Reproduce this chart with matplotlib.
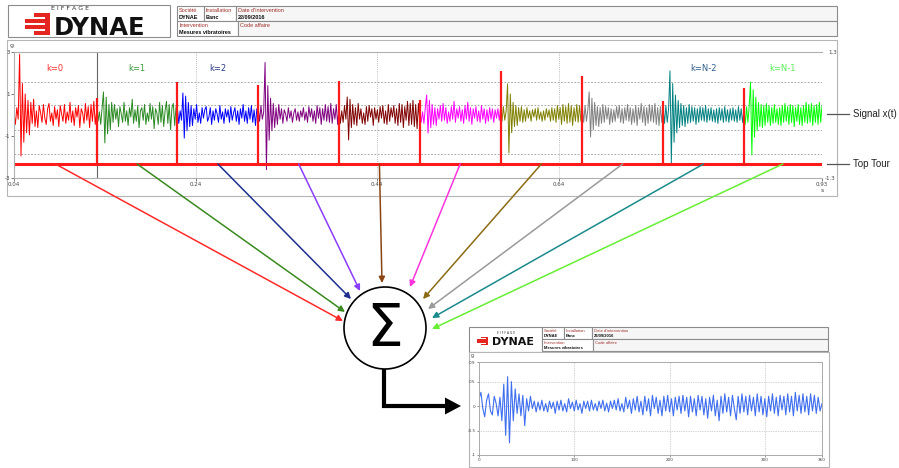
import numpy as np
import matplotlib
matplotlib.use('Agg')
import matplotlib.pyplot as plt
from matplotlib.patches import Rectangle, Circle, ConnectionPatch, Polygon

W, H = 899, 468

# --- vibration signal x(t) [g], one list per revolution k ---
seg_colors = ['#ff0000', '#2a8a22', '#0000ff', '#800080', '#800000',
              '#ff00ff', '#808000', '#808080', '#008080', '#00ff00']
arrow_colors = ['#ff2a2a', '#3a8a1e', '#1f2f8f', '#8a3cff', '#8b4513',
                '#ff33dd', '#8b6b14', '#9a9a9a', '#1a8a8a', '#66ee33']

s0 = [0.1, -0.45, 0.35, -0.2, 2.9, -1.95, 1.5, -1.3, 1.0, -0.85, 0.7, -0.95, 0.6, -0.4, 0.75, -0.55, 0.2, -0.6, 0.45, 0.1,
      -0.35, 0.5, -0.15, -0.45, 0.3, 0.55, -0.3, 0.1, -0.5, 0.4, -0.2, 0.25, -0.55, 0.45, 0.05, -0.3, 0.5, -0.4, 0.15, -0.25,
      0.6, -0.35, 0.2, -0.5, 0.35, -0.1, 0.45, -0.6, 0.3, 0.1, -0.4, 0.55, -0.25, 0.4, -0.6, 0.5, -0.3, 0.65, -0.45, 0.2]
s1 = [0.4, -0.3, 0.15, -0.45, 0.35, 1.1, -1.33, 0.85, -0.9, 0.5, -0.7, 0.6, -0.35, 0.5, -0.2, 0.3, -0.55, 0.4, 0.05, -0.35,
      0.6, -0.3, 0.2, -0.5, 0.35, -0.1, 0.75, -0.4, 0.25, -0.3, 0.45, -0.6, 0.2, 0.35, -0.25, 0.5, -0.45, 0.1, -0.3, 0.55,
      -0.2, 0.4, -0.65, 0.3, 0.1, -0.45, 0.6, -0.35, 0.45, -0.55, 0.2, 0.65, -0.4, 0.5, -0.7, 0.35, 0.55, -0.5, 0.4, -0.3]
s2 = [0.3, -0.4, 0.2, -0.25, 1.05, -1.1, 0.9, -0.75, 0.6, -0.55, 0.45, -0.5, 0.3, -0.2, 0.5, -0.35, 0.1, -0.4, 0.35, -0.15,
      0.25, 0.4, -0.3, -0.1, 0.35, -0.45, 0.2, -0.25, 0.3, 0.05, -0.35, 0.45, -0.2, 0.15, -0.4, 0.3, -0.1, 0.25, -0.35, 0.4,
      -0.25, 0.1, 0.35, -0.3, 0.2, -0.45, 0.3, -0.15, 0.5, -0.3, 0.2, -0.4, 0.35, -0.2, 0.45, -0.35, 0.25, -0.5, 0.3, -0.2]
s3 = [0.35, -0.3, 0.45, -0.2, 0.15, 2.5, -2.6, 1.4, -1.2, 0.8, -0.75, 0.55, -0.6, 0.35, -0.45, 0.5, -0.2, 0.3, -0.4, 0.25,
      0.05, -0.3, 0.35, -0.15, 0.2, -0.35, 0.1, 0.3, -0.25, 0.15, -0.3, 0.2, -0.1, 0.35, -0.25, 0.15, -0.35, 0.4, -0.1, 0.3,
      -0.3, 0.2, -0.4, 0.45, -0.15, 0.35, -0.45, 0.3, -0.25, 0.5, -0.3, 0.4, -0.35, 0.55, -0.4, 0.3, -0.2, 0.5, -0.45, 0.35]
s4 = [0.35, -0.4, 0.2, -0.35, 0.45, -0.2, 0.86, -1.19, 0.75, -0.6, 0.5, -0.45, 0.35, -0.5, 0.55, -0.2, 0.3, -0.4, 0.1, -0.45,
      0.4, -0.3, 0.45, -0.1, 0.3, -0.5, 0.35, -0.2, 0.25, -0.35, 0.4, -0.15, 0.45, -0.4, 0.2, -0.45, 0.5, -0.3, 0.35, -0.1,
      0.45, -0.4, 0.3, -0.5, 0.55, -0.35, 0.5, -0.6, 0.4, -0.25, 0.65, -0.5, 0.55, -0.45, 0.7, -0.55, 0.5, -0.65, 0.55, -0.35]
s5 = [0.3, -0.35, 0.15, -0.4, 0.35, 0.95, -0.86, 0.7, -0.6, 0.5, -0.45, 0.35, -0.5, 0.3, -0.2, 0.45, -0.3, 0.55, -0.25, 0.35,
      -0.4, 0.15, -0.3, 0.4, -0.2, 0.65, -0.35, 0.3, -0.15, 0.4, -0.3, 0.25, -0.4, 0.45, -0.2, 0.6, -0.3, 0.35, -0.45, 0.3,
      -0.15, 0.4, -0.3, 0.2, -0.35, 0.45, -0.2, 0.3, -0.4, 0.25, -0.3, 0.35, -0.2, 0.3, -0.35, 0.25, -0.15, 0.3, -0.25, 0.35]
s6 = [0.35, -0.3, 0.4, -0.25, 0.2, 1.48, -1.81, 1.0, -0.85, 0.6, -0.55, 0.45, -0.5, 0.35, -0.3, 0.4, -0.35, 0.25, -0.3, 0.35,
      -0.15, 0.2, -0.3, 0.25, -0.1, 0.3, -0.25, 0.35, -0.2, 0.15, -0.3, 0.2, -0.25, 0.3, -0.1, 0.25, -0.3, 0.35, -0.25, 0.3,
      -0.35, 0.45, -0.2, 0.35, -0.45, 0.5, -0.3, 0.4, -0.4, 0.55, -0.35, 0.45, -0.5, 0.35, -0.3, 0.5, -0.35, 0.45, -0.3, 0.35]
s7 = [0.4, -0.35, 0.45, -0.3, 0.25, 1.1, -1.05, 0.8, -0.7, 0.6, -0.5, 0.4, -0.55, 0.35, -0.4, 0.5, -0.35, 0.4, -0.2, 0.35,
      -0.45, 0.3, -0.35, 0.25, -0.3, 0.4, -0.15, 0.45, -0.35, 0.3, -0.4, 0.35, -0.25, 0.5, -0.3, 0.35, -0.45, 0.3, -0.35, 0.45,
      -0.5, 0.35, -0.2, 0.55, -0.35, 0.4, -0.5, 0.35, -0.4, 0.5, -0.3, 0.45, -0.35, 0.55, -0.45, 0.35, -0.5, 0.4, -0.35, 0.45]
s8 = [0.35, -0.4, 0.45, -0.35, 0.3, 2.1, -2.29, 1.5, -1.3, 0.95, -0.85, 0.7, -0.6, 0.55, -0.5, 0.45, -0.55, 0.35, -0.4, 0.5,
      -0.35, 0.4, -0.3, 0.35, -0.45, 0.3, -0.35, 0.4, -0.25, 0.35, -0.3, 0.45, -0.35, 0.3, -0.25, 0.35, -0.3, 0.25, -0.35, 0.3,
      -0.4, 0.35, -0.25, 0.3, -0.35, 0.4, -0.3, 0.25, -0.35, 0.3, -0.25, 0.35, -0.3, 0.25, -0.35, 0.4, -0.25, 0.3, -0.35, 0.25]
s9 = [0.35, -0.45, 0.4, -0.35, 0.45, 1.57, -1.9, 1.2, -1.05, 0.85, -0.75, 0.6, -0.55, 0.5, -0.6, 0.45, -0.5, 0.55, -0.35, 0.45,
      -0.5, 0.35, -0.4, 0.5, -0.35, 0.3, -0.45, 0.35, -0.5, 0.45, -0.35, 0.55, -0.3, 0.4, -0.45, 0.5, -0.35, 0.45, -0.55, 0.35,
      -0.3, 0.5, -0.45, 0.35, -0.5, 0.45, -0.35, 0.6, -0.4, 0.5, -0.35, 0.55, -0.5, 0.45, -0.35, 0.5, -0.45, 0.6, -0.35, 0.45]
seg_signal = [s0, s1, s2, s3, s4, s5, s6, s7, s8, s9]

# top tour (once-per-rev) pulses
t_start, t_end = 0.04, 0.93
top_tour_times = [0.131, 0.220, 0.309, 0.398, 0.487, 0.576, 0.666, 0.755, 0.844]
top_tour_peaks = [0.81, 1.57, 1.43, 1.62, 0.71, 2.10, 1.86, 0.67, 1.29]
top_tour_base = -2.33

k_labels = {0: 'k=0', 1: 'k=1', 2: 'k=2', 8: 'k=N-2', 9: 'k=N-1'}
k_label_colors = {0: '#ff3030', 1: '#3a9a3a', 2: '#2a3a8a', 8: '#2f5f8f', 9: '#55ee55'}

# synchronous average over one revolution (deg)
avg_signal = [0.15, 0.28, -0.05, -0.22, 0.12, 0.25,
              -0.1, -0.18, 0.2, 0.05, -0.2, 0.18, -0.3, 0.45, -0.6, 0.6,
              -0.75, 0.5, -0.3, 0.35, -0.15, 0.25, -0.2, 0.22, -0.4, 0.15,
              -0.1, 0.2, -0.05, 0.1, -0.12, 0.08, -0.08, 0.12, -0.1, 0.05,
              -0.12, 0.1, -0.05, 0.08, -0.15, 0.1, -0.08, 0.12, -0.1, 0.05,
              -0.12, 0.15, -0.05, 0.08, -0.1, 0.12, -0.08, 0.05, -0.15, 0.1,
              -0.05, 0.1, -0.1, 0.12, -0.08, 0.05, -0.1, 0.1, -0.05, 0.12,
              -0.1, 0.06, -0.12, 0.1, -0.05, 0.12, -0.08, 0.15, -0.1, 0.05,
              -0.12, 0.18, -0.05, 0.12, -0.15, 0.15, -0.08, 0.2, -0.12, 0.1,
              -0.18, 0.2, -0.1, 0.15, -0.2, 0.22, -0.05, 0.18, -0.15, 0.12,
              -0.2, 0.2, -0.1, 0.22, -0.12, 0.15, -0.2, 0.18, -0.08, 0.2,
              -0.15, 0.22, -0.1, 0.18, -0.22, 0.2, -0.12, 0.15, -0.2, 0.22,
              -0.08, 0.2, -0.18, 0.15, -0.25, 0.18, -0.1, 0.22, -0.2, 0.12,
              -0.3, 0.2, -0.15, 0.25, -0.12, 0.18, -0.2, 0.22, -0.05, -0.28,
              0.2, -0.15, 0.25, -0.12, 0.2, -0.18, 0.22, -0.1, 0.18, -0.2,
              0.25, -0.12, 0.2, -0.18, 0.15, -0.22, 0.2, -0.1, 0.25, -0.15,
              0.18, -0.2, 0.22, -0.08, 0.2, -0.18, 0.25, -0.12, 0.2, -0.2,
              0.28, -0.1, 0.22, -0.15, 0.25, -0.12, 0.2, -0.18, 0.25, -0.1,
              0.22, -0.15, 0.18, -0.1, 0.05]

fig = plt.figure(figsize=(W / 100, H / 100), dpi=100)


def px_axes(x0, y0, x1, y1):
    return fig.add_axes([x0 / W, 1 - y1 / H, (x1 - x0) / W, (y1 - y0) / H])


def pixel_canvas():
    a = px_axes(0, 0, W, H)
    a.set_xlim(0, W)
    a.set_ylim(H, 0)
    a.axis('off')
    a.patch.set_alpha(0)
    return a


def draw_logo(ax, box, icon, dynae, eiffage):
    ax.add_patch(Rectangle(box[:2], box[2], box[3], fc='white', ec='#8c8c8c', lw=0.8))
    ix, iy, iw, ih = icon
    red = '#e5251f'
    ax.add_patch(Rectangle((ix + iw * 0.78, iy), iw * 0.22, ih, fc=red, ec='none'))
    for k, left in enumerate([0.35, 0.0, 0.0, 0.35]):
        ax.add_patch(Rectangle((ix + iw * left, iy + k * ih * 0.28), iw * (0.8 - left), ih * 0.16,
                               fc=red, ec='none'))
    ax.text(dynae[0], dynae[1], 'DYNAE', fontsize=dynae[2], fontweight='bold',
            va='center', ha='left', color='#111')
    ax.text(eiffage[0], eiffage[1], 'E I F F A G E', fontsize=eiffage[2],
            va='center', ha='center', color='#333')


def draw_cells(ax, rows, fs):
    # rows: list of (y0, y1, [(x0, x1, label, value, fill)])
    for y0, y1, cells in rows:
        for x0, x1, label, value, fill in cells:
            ax.add_patch(Rectangle((x0, y0), x1 - x0, y1 - y0, fc=fill, ec='#8c8c8c', lw=0.8))
            ax.text(x0 + 2, y0 + (y1 - y0) * 0.3, label, fontsize=fs, color='#a0302a',
                    va='center', family='Liberation Sans')
            if value:
                ax.text(x0 + 2, y0 + (y1 - y0) * 0.75, value, fontsize=fs, color='#111',
                        va='center', fontweight='bold', family='Liberation Sans')


bg = pixel_canvas()

# header of the acquisition report
draw_logo(bg, (8, 5, 162, 32), (25, 13, 25, 22), (54, 28, 17.5), (70, 9, 4.5))
draw_cells(bg, [(6, 21, [(177, 204, 'Société', 'DYNAE', 'white'),
                         (204, 236, 'Installation', 'Banc', 'white'),
                         (236, 837, "Date d'intervention", '22/09/2016', '#f6f6f6')]),
                (21, 36, [(177, 238, 'Intervention', 'Mesures vibratoires', 'white'),
                          (238, 837, 'Code affaire', '', '#f6f6f6')])], 4)
bg.add_patch(Rectangle((7, 40), 830, 156, fc='white', ec='#b5b5b5', lw=0.8))
bg.text(10, 45, 'g', fontsize=4.5, color='#444', va='center')
bg.text(822, 191, 's', fontsize=4.5, color='#444', va='center', ha='center')

# header of the averaged result
draw_logo(bg, (469, 327, 73, 25), (477, 337, 11, 8), (492, 342, 8), (506, 333, 2.2))
draw_cells(bg, [(327, 339, [(542, 564, 'Société', 'DYNAE', 'white'),
                            (564, 592, 'Installation', 'Banc', 'white'),
                            (592, 828, "Date d'intervention", '22/09/2016', '#f6f6f6')]),
                (339, 351, [(542, 593, 'Intervention', 'Mesures vibratoires', 'white'),
                            (593, 828, 'Code affaire', '', '#f6f6f6')])], 3)
bg.add_patch(Rectangle((469, 352), 360, 115, fc='white', ec='#b5b5b5', lw=0.8))
bg.text(471, 356, 'g', fontsize=3.5, color='#444', va='center')

# --- raw signal with top tour ---
ax = px_axes(14, 52, 822, 178)
ax.patch.set_alpha(0)
ax.set_xlim(t_start, t_end)
ax.set_ylim(-3, 3)
for side in ['left', 'top', 'bottom']:
    ax.spines[side].set_color('#b0b0b0')
    ax.spines[side].set_linewidth(0.8)
ax.spines['right'].set_visible(False)
ax.set_yticks([3, 1, -1, -3])
ax.set_yticklabels(['3', '1', '-1', '-3'])
ax.set_xticks([0.04, 0.24, 0.44, 0.64, 0.93])
ax.set_xticklabels(['0.04', '0.24', '0.44', '0.64', '0.93'])
ax.tick_params(labelsize=4, colors='#444', length=2, width=0.5, pad=1)
for lvl in [1.57, 0.48, -0.71, -1.86]:
    ax.axhline(lvl, color='#999', lw=0.6, ls=(0, (2, 2)))
for t in [0.24, 0.44, 0.64]:
    ax.axvline(t, color='#aaa', lw=0.6, ls=(0, (1, 1.5)))
ax.axvline(top_tour_times[0], color='#666', lw=0.8)

bounds = [t_start] + top_tour_times + [t_end]
mids = []
for i, vals in enumerate(seg_signal):
    t = np.linspace(bounds[i], bounds[i + 1], len(vals))
    ax.plot(t, vals, color=seg_colors[i], lw=0.7)
    mids.append((bounds[i] + bounds[i + 1]) / 2)
for i, lab in k_labels.items():
    ax.text(mids[i], 2.2, lab, fontsize=6, color=k_label_colors[i], ha='center', va='center')

ax.hlines(top_tour_base, t_start, t_end, color='#ff1a1a', lw=2.2)
ax.vlines(top_tour_times, top_tour_base, top_tour_peaks, color='#ff1a1a', lw=1.6)

# --- averaged signal over one revolution ---
bx = px_axes(479, 362, 822, 455)
bx.set_xlim(0, 360)
bx.set_ylim(-1, 0.9)
for s in bx.spines.values():
    s.set_color('#aaa')
    s.set_linewidth(0.7)
bx.set_xticks([0, 100, 200, 300, 360])
bx.set_yticks([0.9, 0.5, 0, -0.5, -1])
bx.set_yticklabels(['0.9', '0.5', '0', '-0.5', '-1'])
bx.tick_params(labelsize=3, colors='#444', length=1.5, width=0.4, pad=1)
for lvl in [0.5, 0, -0.5]:
    bx.axhline(lvl, color='#aaa', lw=0.5, ls=(0, (1, 1.5)))
for d in [100, 200, 300]:
    bx.axvline(d, color='#aaa', lw=0.5, ls=(0, (1, 1.5)))
deg = np.linspace(0, 360, len(avg_signal))
bx.plot(deg, avg_signal, color='#3f6ff0', lw=0.8)

# --- summation diagram ---
fg = pixel_canvas()
fg.text(828, 52, '1.3', fontsize=4, color='#444', va='center')
fg.text(825, 178, '-1.3', fontsize=4, color='#444', va='center')

fg.plot([827, 849], [114, 114], color='#555', lw=0.9)
fg.text(853, 114, 'Signal x(t)', fontsize=7, va='center', family='Liberation Sans', color='#222')
fg.plot([827, 849], [164, 164], color='#555', lw=0.9)
fg.text(853, 164, 'Top Tour', fontsize=7, va='center', family='Liberation Sans', color='#222')

center, radius = (385, 328), 41
arrow_tips = [(343, 321), (345, 312), (351, 299), (360, 291), (382, 283),
              (410, 287), (423, 299), (428, 309), (432, 318), (432, 329)]
for i, tip in enumerate(arrow_tips):
    con = ConnectionPatch(xyA=(mids[i], top_tour_base), coordsA=ax.transData,
                          xyB=tip, coordsB=fg.transData, arrowstyle='-|>',
                          mutation_scale=9, lw=1.1, color=arrow_colors[i],
                          shrinkA=0, shrinkB=0)
    fig.add_artist(con)

fg.add_patch(Circle(center, radius, fill=False, ec='black', lw=1.2))
fg.text(center[0], center[1] + 2, 'Σ', fontsize=42, ha='center', va='center', color='black')
fg.plot([384, 384, 446], [369, 406, 406], color='black', lw=3,
        solid_joinstyle='miter', solid_capstyle='butt')
fg.add_patch(Polygon([(445, 397.5), (461, 406), (445, 414.5)], closed=True, fc='black', ec='none'))

fig.savefig('out.png', dpi=100)
